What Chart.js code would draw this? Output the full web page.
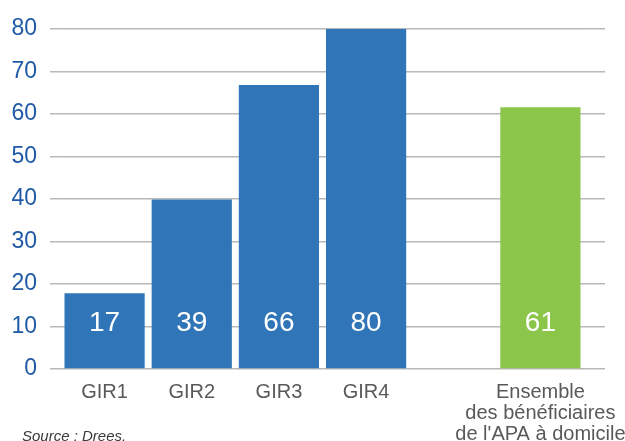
<!DOCTYPE html>
<html lang="fr">
<head>
<meta charset="utf-8">
<script src="https://cdn.jsdelivr.net/npm/chart.js@4.4.1/dist/chart.umd.min.js"></script>
<style>
  html, body { margin: 0; padding: 0; background: #fff; }
  #wrap { position: relative; width: 625px; height: 441px; }
  #source {
    position: absolute; left: 22px; top: 427px;
    font: italic 15px "Liberation Sans", Arial, sans-serif;
    color: #3a3a3a;
  }
</style>
</head>
<body>
<div id="wrap">
  <canvas id="chart" width="625" height="441"></canvas>
  <div id="source">Source : Drees.</div>
</div>
<script>
// ── Données ───────────────────────────────────────────────────────
const categories  = ['GIR1', 'GIR2', 'GIR3', 'GIR4', ['Ensemble', 'des bénéficiaires', "de l'APA à domicile"]];
const values      = [17.8, 39.9, 66.8, 80, 61.6];
const valueLabels = ['17', '39', '66', '80', '61'];
const yTicks      = [0, 10, 20, 30, 40, 50, 60, 70, 80];

// ── Couleurs ──────────────────────────────────────────────────────
const BLUE  = '#2f75b7';
const GREEN = '#8bc64b';
const GRID  = '#b8b8b8';
const FONT  = "'Liberation Sans', Arial, sans-serif";

// une catégorie vide entre GIR4 et l'ensemble
const labels = [...categories.slice(0, 4), '', categories[4]];
const data   = [...values.slice(0, 4), null, values[4]];
const texts  = [...valueLabels.slice(0, 4), null, valueLabels[4]];
const colors = [BLUE, BLUE, BLUE, BLUE, BLUE, GREEN];

// ── Étiquettes blanches dans les barres ───────────────────────────
const barText = {
  id: 'barText',
  afterDatasetsDraw(chart) {
    const ctx  = chart.ctx;
    const meta = chart.getDatasetMeta(0);
    ctx.save();
    ctx.fillStyle = '#ffffff';
    ctx.font = '28px ' + FONT;
    ctx.textAlign = 'center';
    ctx.textBaseline = 'middle';
    meta.data.forEach((bar, i) => {
      if (texts[i] == null) return;
      ctx.fillText(texts[i], bar.x, bar.base - 45);
    });
    ctx.restore();
  },
};

const setYTicks = axis => { axis.ticks = yTicks.map(v => ({ value: v })); };

new Chart(document.getElementById('chart'), {
  type: 'bar',
  data: {
    labels,
    datasets: [{
      data,
      backgroundColor: colors,
      borderWidth: 0,
      barPercentage: 0.92,
      categoryPercentage: 1.0,
    }],
  },
  options: {
    responsive: false,
    animation: false,
    layout: { padding: { left: 0, right: 20, top: 29, bottom: 0 } },
    plugins: {
      legend:  { display: false },
      tooltip: { enabled: false },
    },
    scales: {
      x: {
        grid:   { display: false, drawTicks: false },
        border: { display: false },
        ticks: {
          color: '#595959',
          font: { family: FONT, size: 20, lineHeight: 1.04 },
          padding: 13,
          maxRotation: 0,
          autoSkip: false,
        },
        afterFit: s => { s.height = 72; s.paddingLeft = 0; s.paddingRight = 0; },
      },
      y: {
        min: 0,
        max: 80,
        afterBuildTicks: setYTicks,
        afterFit: s => { s.width = 61; s.paddingTop = 0; s.paddingBottom = 0; },
        grid:   { color: GRID, lineWidth: 1.5, drawTicks: true, tickLength: 11 },
        border: { display: false },
        ticks: {
          color: '#1f5aa6',
          font: { family: FONT, size: 23 },
          padding: 13,
        },
      },
      // prolonge les lignes de quadrillage à droite
      y2: {
        position: 'right',
        min: 0,
        max: 80,
        afterBuildTicks: setYTicks,
        afterFit: s => { s.width = 21; s.paddingTop = 0; s.paddingBottom = 0; },
        grid:   { color: GRID, lineWidth: 1.5, drawOnChartArea: false, drawTicks: true, tickLength: 21 },
        border: { display: false },
        ticks:  { display: false },
      },
    },
  },
  plugins: [barText],
});
</script>
</body>
</html>
